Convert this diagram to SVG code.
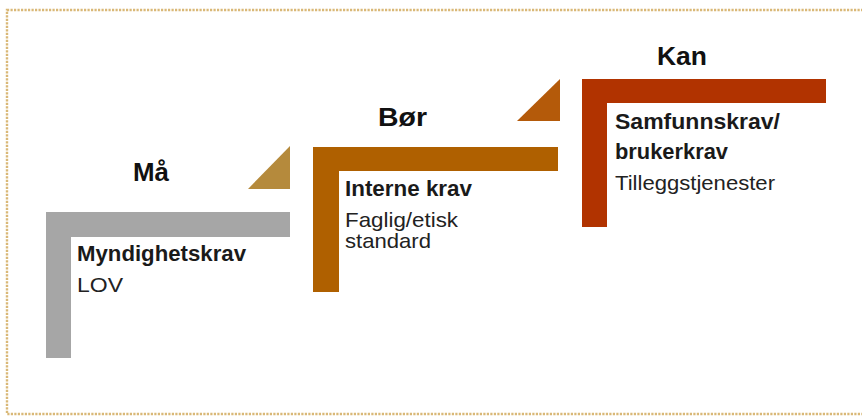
<svg xmlns="http://www.w3.org/2000/svg" width="862" height="416" viewBox="0 0 862 416">
  <style>
    .head { font-family: "Liberation Sans", Arial, sans-serif; font-weight: bold; font-size: 26px; fill: #111; }
    .bold { font-family: "Liberation Sans", Arial, sans-serif; font-weight: bold; font-size: 22px; fill: #1a1a1a; }
    .reg { font-family: "Liberation Sans", Arial, sans-serif; font-size: 21px; fill: #222; }
    .frame { fill: none; stroke: #d9b877; stroke-width: 2.4; stroke-dasharray: 2.2 1.3; }
  </style>
  <rect width="862" height="416" fill="#ffffff"/>
  <rect class="frame" x="7" y="10" width="900" height="404"/>

  <g id="connectors">
    <polygon points="248,189 290,189 290,146" fill="#b58a3c"/>
    <polygon points="517,121 560,121 560,79" fill="#b45a0a"/>
  </g>

  <g id="step-ma">
    <path d="M46,212 H290 V237 H71 V358 H46 Z" fill="#a6a6a6"/>
    <text class="head" x="133" y="181" textLength="36" lengthAdjust="spacingAndGlyphs">Må</text>
    <text class="bold" x="77" y="261" textLength="169" lengthAdjust="spacingAndGlyphs">Myndighetskrav</text>
    <text class="reg" x="77" y="292" textLength="46" lengthAdjust="spacingAndGlyphs">LOV</text>
  </g>

  <g id="step-bor">
    <path d="M313,147 H558 V171 H339 V292 H313 Z" fill="#af6000"/>
    <text class="head" x="378" y="126" textLength="49" lengthAdjust="spacingAndGlyphs">Bør</text>
    <text class="bold" x="345" y="196" textLength="127" lengthAdjust="spacingAndGlyphs">Interne krav</text>
    <text class="reg" x="345" y="227" textLength="113" lengthAdjust="spacingAndGlyphs">Faglig/etisk</text>
    <text class="reg" x="345" y="248" textLength="86" lengthAdjust="spacingAndGlyphs">standard</text>
  </g>

  <g id="step-kan">
    <path d="M582,79 H826 V103 H607 V227 H582 Z" fill="#b13300"/>
    <text class="head" x="657" y="65" textLength="50" lengthAdjust="spacingAndGlyphs">Kan</text>
    <text class="bold" x="615" y="129" textLength="165" lengthAdjust="spacingAndGlyphs">Samfunnskrav/</text>
    <text class="bold" x="615" y="159" textLength="113" lengthAdjust="spacingAndGlyphs">brukerkrav</text>
    <text class="reg" x="615" y="190" textLength="160" lengthAdjust="spacingAndGlyphs">Tilleggstjenester</text>
  </g>
</svg>
